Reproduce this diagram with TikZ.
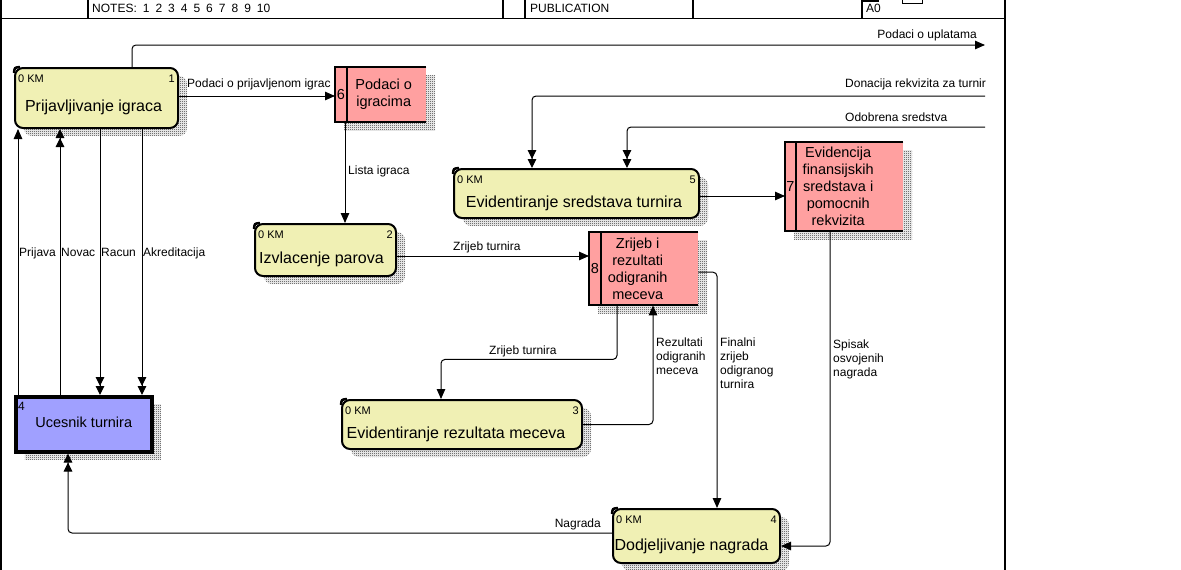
\documentclass[tikz,border=0pt]{standalone}
\usepackage{fontspec}
\setmainfont{Liberation Sans}
\usetikzlibrary{arrows.meta,patterns,shadows}
\definecolor{procfill}{RGB}{240,240,180}
\definecolor{storefill}{RGB}{255,160,160}
\definecolor{entfill}{RGB}{160,160,255}
\pgfdeclarepatternformonly{checkerdots}{\pgfpointorigin}{\pgfqpoint{2pt}{2pt}}{\pgfqpoint{2pt}{2pt}}{%
  \pgfpathrectangle{\pgfpointorigin}{\pgfqpoint{1pt}{1pt}}%
  \pgfpathrectangle{\pgfqpoint{1pt}{1pt}}{\pgfqpoint{1pt}{1pt}}%
  \pgfusepath{fill}%
}
\tikzset{
  frameline/.style={line width=1.2pt},
  shadowfill/.style={pattern=checkerdots, pattern color=black!85},
  procbox/.style={draw=black, line width=2pt, fill=procfill, rounded corners=8pt, inner sep=0pt, anchor=north west,
     general shadow={shadow xshift=9pt, shadow yshift=-8pt, shadowfill}},
  storebox/.style={fill=storefill, inner sep=0pt, anchor=north west,
     general shadow={shadow xshift=9pt, shadow yshift=-8pt, shadowfill}},
  storeline/.style={line width=2pt},
  entbox/.style={draw=black, line width=3.5pt, fill=entfill, inner sep=0pt, anchor=north west,
     general shadow={shadow xshift=9pt, shadow yshift=-8pt, shadowfill}},
  notch/.style={line width=2.5pt},
  kmtxt/.style={font=\fontsize{11}{13}\selectfont, inner sep=0pt},
  ptxt/.style={font=\fontsize{16}{19}\selectfont, inner sep=0pt, anchor=base},
  stxt/.style={font=\fontsize{14.5}{17}\selectfont, inner sep=0pt, align=center},
  etxt/.style={font=\fontsize{14.5}{17}\selectfont, inner sep=0pt, anchor=base},
  lbl/.style={font=\fontsize{12}{14}\selectfont, inner sep=0pt, align=left},
  hdr/.style={font=\fontsize{12}{14}\selectfont, inner sep=0pt, anchor=base west},
  arr/.style={line width=1pt, rounded corners=4pt, -{Triangle[length=10pt,width=8.5pt]}},
  darr/.style={line width=1pt, rounded corners=4pt, -{Triangle[length=9pt,width=8.5pt]Triangle[length=9pt,width=8.5pt]}}
}
\begin{document}
\begin{tikzpicture}[x=1pt,y=-1pt]
\useasboundingbox (0,0) rectangle (1181,570);
% ---- frame and header
\draw[frameline] (1,0) -- (1,570);
\draw[frameline] (1005,0) -- (1005,570);
\draw[frameline] (1,18.5) -- (1005,18.5);
\foreach \xx in {88,503,525,693,862} \draw[frameline] (\xx,0) -- (\xx,18.5);
\draw[line width=2pt] (863,0.8) -- (879,0.8);
\draw[line width=1pt] (902,-2) rectangle (922,3);
\node[hdr] (notes) at (92,12.5) {\spaceskip=6pt NOTES: 1 2 3 4 5 6 7 8 9 10};
\node[hdr] (pub) at (530,12.5) {PUBLICATION};
\node[hdr] (a0) at (866,12.5) {A0};

% ---- processes
\node[procbox, minimum width=163pt, minimum height=60pt] (p1) at (14,67) {};
\node[procbox, minimum width=141pt, minimum height=52pt] (p2) at (254,223) {};
\node[procbox, minimum width=240pt, minimum height=49pt] (p3) at (341,399) {};
\node[procbox, minimum width=167pt, minimum height=54pt] (p4) at (612,508) {};
\node[procbox, minimum width=245pt, minimum height=49pt] (p5) at (453,168) {};
\foreach \pp in {p1,p2,p3,p4,p5}
  \draw[notch] ([yshift=-6pt]\pp.north west) .. controls ([xshift=0.5pt,yshift=-0.5pt]\pp.north west) .. ([xshift=6pt]\pp.north west);

\node[kmtxt, anchor=base west] (p1km) at ([xshift=4pt,yshift=-15pt]p1.north west) {0 KM};
\node[kmtxt, anchor=base east] (p1id) at ([xshift=-4pt,yshift=-15pt]p1.north east) {1};
\node[ptxt] (p1t) at ([xshift=-3pt,yshift=-44pt]p1.north) {Prijavljivanje igraca};

\node[kmtxt, anchor=base west] (p2km) at ([xshift=4pt,yshift=-15pt]p2.north west) {0 KM};
\node[kmtxt, anchor=base east] (p2id) at ([xshift=-4pt,yshift=-15pt]p2.north east) {2};
\node[ptxt] (p2t) at ([xshift=-4pt,yshift=-40pt]p2.north) {Izvlacenje parova};

\node[kmtxt, anchor=base west] (p3km) at ([xshift=4pt,yshift=-15pt]p3.north west) {0 KM};
\node[kmtxt, anchor=base east] (p3id) at ([xshift=-4pt,yshift=-15pt]p3.north east) {3};
\node[ptxt] (p3t) at ([xshift=-6pt,yshift=-39pt]p3.north) {Evidentiranje rezultata meceva};

\node[kmtxt, anchor=base west] (p4km) at ([xshift=4pt,yshift=-15pt]p4.north west) {0 KM};
\node[kmtxt, anchor=base east] (p4id) at ([xshift=-4pt,yshift=-15pt]p4.north east) {4};
\node[ptxt] (p4t) at ([xshift=-5pt,yshift=-42pt]p4.north) {Dodjeljivanje nagrada};

\node[kmtxt, anchor=base west] (p5km) at ([xshift=4pt,yshift=-15pt]p5.north west) {0 KM};
\node[kmtxt, anchor=base east] (p5id) at ([xshift=-4pt,yshift=-15pt]p5.north east) {5};
\node[ptxt] (p5t) at ([xshift=-2.5pt,yshift=-39pt]p5.north) {Evidentiranje sredstava turnira};

% ---- data stores
\node[storebox, minimum width=91pt, minimum height=55pt] (s6) at (335,67) {};
\node[storebox, minimum width=118pt, minimum height=89pt] (s7) at (785,142) {};
\node[storebox, minimum width=109pt, minimum height=73pt] (s8) at (589,232) {};
\foreach \ss/\dd in {s6/12,s7/11,s8/12} {
  \draw[storeline] (\ss.north east) -- (\ss.north west) -- (\ss.south west) -- (\ss.south east);
  \draw[storeline] ([xshift=\dd pt]\ss.north west) -- ([xshift=\dd pt]\ss.south west);
}
\node[stxt] (s6id) at ([xshift=6pt]s6.west) {6};
\node[stxt] (s6t) at ([xshift=3pt]s6.center) {Podaci o\\igracima};
\node[stxt] (s7id) at ([xshift=5.5pt]s7.west) {7};
\node[stxt] (s7t) at ([xshift=-6pt]s7.center) {Evidencija\\finansijskih\\sredstava i\\pomocnih\\rekvizita};
\node[stxt] (s8id) at ([xshift=6pt]s8.west) {8};
\node[stxt] (s8t) at ([xshift=-6pt]s8.center) {Zrijeb i\\rezultati\\odigranih\\meceva};

% ---- external entity
\node[entbox, minimum width=136pt, minimum height=55pt] (u) at (14,395) {};
\node[kmtxt, font=\fontsize{12}{14}\selectfont, anchor=base west] (uid) at ([xshift=4pt,yshift=-15.5pt]u.north west) {4};
\node[etxt] (ut) at ([yshift=-32pt]u.north) {Ucesnik turnira};

% ---- free ends
\coordinate (uplEnd) at (985,45);
\coordinate (donStart) at (985,96);
\coordinate (odoStart) at (985,127);

% ---- connectors
\draw[arr] ([xshift=118pt]p1.north west) |- (uplEnd);
\node[lbl, anchor=base east] (lupl) at (977,38) {Podaci o uplatama};

\draw[darr] (donStart) -| ([xshift=79pt]p5.north west);
\node[lbl, anchor=base west] (ldon) at (845,87) {Donacija rekvizita za turnir};

\draw[darr] (odoStart) -| ([xshift=174pt]p5.north west);
\node[lbl, anchor=base west] (lodo) at (845,121) {Odobrena sredstva};

\draw[arr] ([yshift=-2.5pt]p5.east) -- ([yshift=-2.5pt]p5.east -| s7.west);

\draw[arr] ([yshift=2pt]p1.east) -- ([yshift=2pt]p1.east -| s6.west);
\node[lbl, anchor=base west] (lprij) at (187,87) {Podaci o prijavljenom igrac};

\draw[arr] ([xshift=10pt]s6.south west) -- ([xshift=10pt]s6.south west |- p2.north);
\node[lbl, anchor=base west] (llista) at (348,174) {Lista igraca};

\draw[arr] ([yshift=-6pt]p2.east) -- ([yshift=-6pt]p2.east -| s8.west);
\node[lbl, anchor=base west] (lzr1) at (453,250) {Zrijeb turnira};

\draw[arr] ([xshift=28pt]s8.south west) -- ++(0,54) -| ([xshift=100pt]p3.north west);
\node[lbl, anchor=base west] (lzr2) at (489,354) {Zrijeb turnira};

\draw[arr] (p3.east) -| ([xshift=64pt]s8.south west);
\node[lbl, anchor=base west] (lrez) at (656,374) {Rezultati\\odigranih\\meceva};

\draw[arr] ([yshift=-3.5pt]s8.east) -| ([xshift=105pt]p4.north west);
\node[lbl, anchor=base west] (lfin) at (720,388) {Finalni\\zrijeb\\odigranog\\turnira};

\draw[arr] ([xshift=45pt]s7.south west) |- ([yshift=-10pt]p4.east);
\node[lbl, anchor=base west] (lspi) at (833,376) {Spisak\\osvojenih\\nagrada};

\draw[darr] ([yshift=3pt]p4.west) -| ([xshift=54pt]u.south west);
\node[lbl, anchor=base east] (lnag) at (601,527) {Nagrada};

\draw[arr] ([xshift=4pt]u.north west) -- ([xshift=4pt]p1.south west);
\node[lbl, anchor=base west] (lpri) at (19,256) {Prijava};
\draw[darr] ([xshift=46pt]u.north west) -- ([xshift=46pt]p1.south west);
\node[lbl, anchor=base west] (lnov) at (61,256) {Novac};
\draw[darr] ([xshift=86pt]p1.south west) -- ([xshift=86pt]u.north west);
\node[lbl, anchor=base west] (lrac) at (101,256) {Racun};
\draw[darr] ([xshift=128pt]p1.south west) -- ([xshift=128pt]u.north west);
\node[lbl, anchor=base west] (lakr) at (143,256) {Akreditacija};
\end{tikzpicture}
\end{document}
